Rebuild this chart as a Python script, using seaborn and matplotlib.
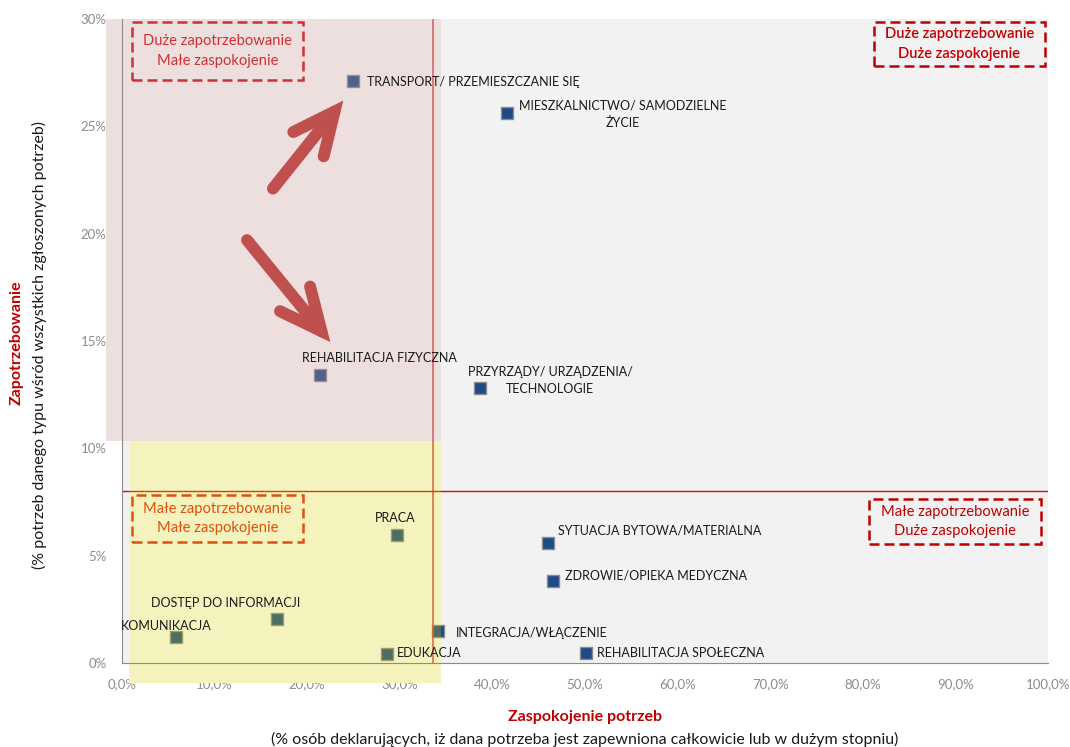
import matplotlib
matplotlib.use("Agg")
import matplotlib.pyplot as plt
from matplotlib.patches import Rectangle, FancyArrowPatch
from matplotlib.ticker import FuncFormatter
import seaborn as sns
import pandas as pd

# Needs: share of all reported needs (y) vs. share of people declaring the need is met (x)
categories = [
    "TRANSPORT/ PRZEMIESZCZANIE SIĘ",
    "MIESZKALNICTWO/ SAMODZIELNE\nŻYCIE",
    "REHABILITACJA FIZYCZNA",
    "PRZYRZĄDY/ URZĄDZENIA/\nTECHNOLOGIE",
    "PRACA",
    "SYTUACJA BYTOWA/MATERIALNA",
    "ZDROWIE/OPIEKA MEDYCZNA",
    "DOSTĘP DO INFORMACJI",
    "KOMUNIKACJA",
    "INTEGRACJA/WŁĄCZENIE",
    "EDUKACJA",
    "REHABILITACJA SPOŁECZNA",
]
satisfaction = [24.9, 41.6, 21.4, 38.7, 29.7, 46.0, 46.5, 16.7, 5.8, 34.1, 28.6, 50.1]
demand = [27.1, 25.6, 13.4, 12.8, 5.96, 5.6, 3.8, 2.05, 1.2, 1.5, 0.42, 0.47]

# reference lines splitting the chart into quadrants
satisfaction_split = 33.6
demand_split = 8.0

x_ticks = [0, 10, 20, 30, 40, 50, 60, 70, 80, 90, 100]
y_ticks = [0, 5, 10, 15, 20, 25, 30]

quadrant_captions = [
    "Duże zapotrzebowanie\nMałe zaspokojenie",
    "Duże zapotrzebowanie\nDuże zaspokojenie",
    "Małe zapotrzebowanie\nMałe zaspokojenie",
    "Małe zapotrzebowanie\nDuże zaspokojenie",
]

df = pd.DataFrame({"kategoria": categories, "zaspokojenie": satisfaction,
                   "zapotrzebowanie": demand})

# label placement: (dx, dy) in pixels from the marker, horizontal alignment
label_offsets = [(14, -1, "left"), (116, -1, "center"), (59, 17, "center"),
                 (70, 8, "center"), (-2, 17, "center"), (10, 12, "left"),
                 (12, 6, "left"), (-51, 16, "center"), (-9, 11, "center"),
                 (18, -2, "left"), (10, 1, "left"), (11, 0, "left")]

sns.set_style("white")
plt.rcParams["font.family"] = ["Lato", "DejaVu Sans"]

W, H = 1070, 747
fig = plt.figure(figsize=(W / 100, H / 100), dpi=100)
ax = fig.add_axes([122 / W, 1 - 663 / H, (1048 - 122) / W, (663 - 19) / H])
ax.set_facecolor("#f2f2f2")
ax.set_xlim(0, 100)
ax.set_ylim(0, 30)

# white base under the tinted quadrants
ax.add_patch(Rectangle((-1.7, 10.35), 36.1, 19.65, facecolor="white",
                       edgecolor="none", zorder=1, clip_on=False))
ax.add_patch(Rectangle((0.75, -0.93), 33.65, 11.28, facecolor="white",
                       edgecolor="none", zorder=1, clip_on=False))

sns.scatterplot(data=df, x="zaspokojenie", y="zapotrzebowanie", ax=ax,
                marker="s", s=70, color="#1f4a86", edgecolor="#8c8c8c",
                linewidth=1.0, zorder=3, legend=False)

# tinted quadrants drawn over the markers
ax.add_patch(Rectangle((-1.7, 10.35), 36.1, 19.65, facecolor="#c99898",
                       alpha=0.3, edgecolor="none", zorder=4, clip_on=False))
ax.add_patch(Rectangle((0.75, -0.93), 33.65, 11.28, facecolor="#d8d400",
                       alpha=0.26, edgecolor="none", zorder=4, clip_on=False))

ax.axvline(satisfaction_split, color="#d94040", lw=1.1, zorder=3.5)
ax.axhline(demand_split, color="#cc1010", lw=1.0, zorder=3.5)

for cat, x, y, (dx, dy, ha) in zip(categories, satisfaction, demand, label_offsets):
    ax.annotate(cat, (x, y), xytext=(dx * 0.72, dy * 0.72), textcoords="offset points",
                ha=ha, va="center", fontsize=9, color="#1a1a1a",
                multialignment="center", linespacing=1.5, zorder=5)

# thick open-headed direction arrows
for (x0, y0), (x1, y1) in [((16.3, 22.1), (23.9, 26.2)), ((13.5, 19.7), (22.5, 14.95))]:
    ax.add_patch(FancyArrowPatch((x0, y0), (x1, y1),
                                 arrowstyle="->,head_length=30,head_width=14",
                                 mutation_scale=1, color="#c0504d", lw=8.6,
                                 capstyle="round", joinstyle="miter",
                                 shrinkA=0, shrinkB=0, zorder=4.5))

# dashed caption boxes, given in pixel coordinates (left, top, right, bottom)
def caption(box, text, color, weight="normal"):
    l, t, r, b = box
    fig.add_artist(Rectangle((l / W, 1 - b / H), (r - l) / W, (b - t) / H,
                             transform=fig.transFigure, facecolor="none",
                             edgecolor=color, linestyle=(0, (4, 2)),
                             linewidth=1.8, zorder=6))
    fig.text((l + r) / 2 / W, 1 - (t + b) / 2 / H, text, ha="center", va="center",
             fontsize=10.6, color=color, weight=weight, linespacing=1.5, zorder=6)

caption((132, 22, 303, 80), quadrant_captions[0], "#d03030")
caption((874, 22, 1045, 66), quadrant_captions[1], "#c00000", "semibold")
caption((132, 495, 303, 542), quadrant_captions[2], "#e0500f")
caption((869, 499, 1041, 544), quadrant_captions[3], "#c00000")

ax.set_xticks(x_ticks)
ax.set_yticks(y_ticks)
ax.xaxis.set_major_formatter(FuncFormatter(lambda v, p: f"{v:.1f}%".replace(".", ",")))
ax.yaxis.set_major_formatter(FuncFormatter(lambda v, p: f"{v:.0f}%"))
ax.tick_params(axis="both", which="major", direction="out", length=5, width=1,
               color="#8c8c8c", labelcolor="#8c8c8c", labelsize=9.5, pad=6)
for side in ("top", "right"):
    ax.spines[side].set_visible(False)
for side in ("left", "bottom"):
    ax.spines[side].set_color("#8c8c8c")
    ax.spines[side].set_zorder(4.6)
ax.set_xlabel("")
ax.set_ylabel("")

fig.text(17 / W, 1 - 343 / H, "Zapotrzebowanie", rotation=90, ha="center", va="center",
         fontsize=11.5, weight="bold", color="#c00000")
fig.text(39 / W, 1 - 345 / H, "(% potrzeb danego typu wśród wszystkich zgłoszonych potrzeb)",
         rotation=90, ha="center", va="center", fontsize=11.5, color="#1a1a1a")
fig.text(585 / W, 1 - 717 / H, "Zaspokojenie potrzeb", ha="center", va="center",
         fontsize=11.5, weight="bold", color="#c00000")
fig.text(585 / W, 1 - 739 / H,
         "(% osób deklarujących, iż dana potrzeba jest zapewniona całkowicie lub w dużym stopniu)",
         ha="center", va="center", fontsize=11.5, color="#1a1a1a")

fig.savefig("out.png", dpi=100, facecolor="white")
